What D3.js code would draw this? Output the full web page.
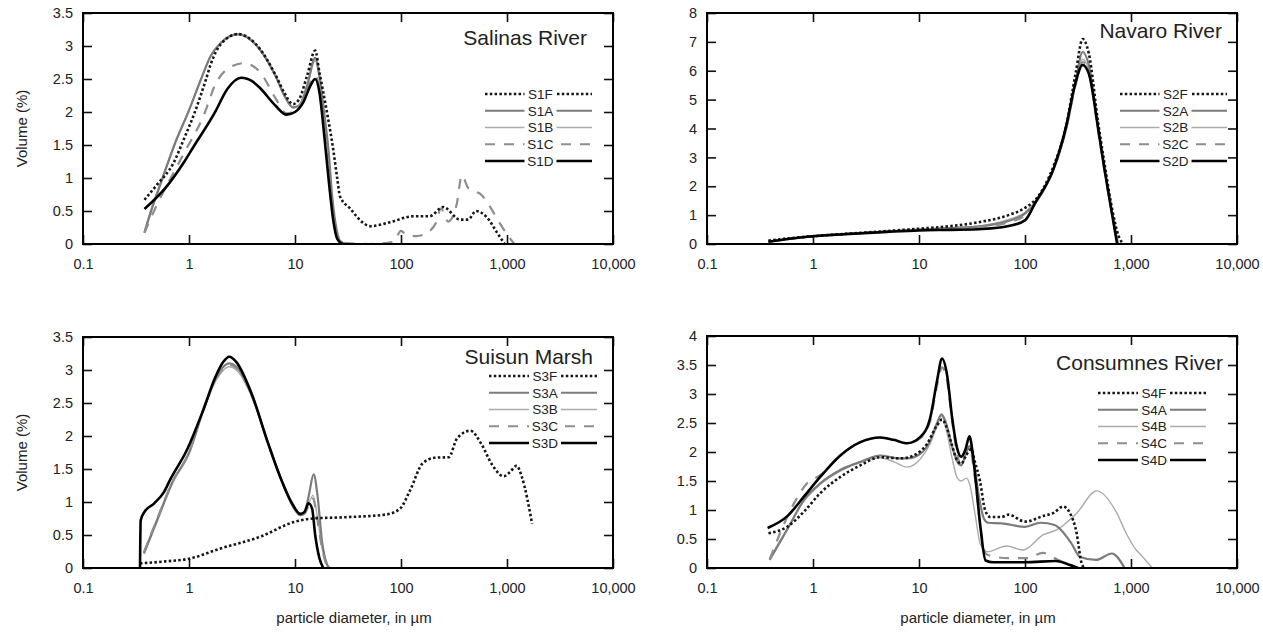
<!DOCTYPE html>
<html>
<head>
<meta charset="utf-8">
<script src="https://cdn.jsdelivr.net/npm/d3@7"></script>
<style>
  body { margin: 0; background: #fff; }
  text { font-family: "Liberation Sans", Arial, sans-serif; fill: #222; }
</style>
</head>
<body>
<svg id="chart" width="1263" height="635"></svg>
<script>
// x axis ticks (particle diameter, µm)
const xTicks = [0.1, 1, 10, 100, 1000, 10000];
const xTickLabels = ["0.1", "1", "10", "100", "1,000", "10,000"];

// ── Salinas River ─────────────────────────────
const s1F = [[0.38,0.67],[0.5,0.9],[0.71,1.22],[0.9,1.6],[1.13,1.99],[1.45,2.5],[1.6,2.72],[2.0,3.03],[2.9,3.18],[4.7,2.95],[6.6,2.55],[8,2.28],[9.6,2.12],[11,2.2],[13,2.55],[15.5,2.93],[17,2.6],[20,2.0],[23,1.42],[25,1.0],[26.6,0.72],[33,0.54],[44,0.32],[51,0.27],[79,0.33],[130,0.42],[186,0.42],[250,0.56],[360,0.37],[430,0.37],[510,0.5],[650,0.4],[800,0.18],[950,0]];
const s1A = [[0.38,0.17],[0.45,0.55],[0.55,0.95],[0.63,1.22],[0.75,1.55],[0.98,1.99],[1.3,2.5],[1.6,2.85],[2.0,3.05],[2.9,3.18],[4.7,2.94],[6.6,2.54],[8,2.24],[9.6,2.07],[11,2.1],[13,2.4],[15.5,2.82],[17,2.55],[18.8,2.0],[20.7,1.42],[22.5,0.7],[24.5,0.25],[26.5,0.05],[30,0]];
const s1B = [[0.38,0.2],[0.45,0.58],[0.55,0.97],[0.63,1.24],[0.75,1.57],[0.98,2.0],[1.3,2.5],[1.6,2.84],[2.0,3.04],[2.9,3.17],[4.7,2.93],[6.6,2.52],[8,2.22],[9.6,2.06],[11,2.1],[13,2.38],[15.5,2.78],[17,2.5],[18.8,1.95],[20.7,1.35],[22.5,0.65],[24.5,0.2],[27,0.04],[32,0]];
const s1C = [[0.38,0.17],[0.5,0.6],[0.7,1.05],[0.9,1.38],[1.41,1.99],[1.75,2.4],[2.3,2.65],[3.3,2.74],[4.7,2.6],[6.6,2.2],[8.3,1.98],[10,2.02],[12,2.2],[14,2.45],[15.5,2.55],[17,2.35],[19,1.7],[21,1.0],[23,0.4],[25,0.1],[28,0.02],[50,0],[85,0.03],[100,0.2],[112,0.14],[140,0.12],[180,0.18],[215,0.33],[238,0.54],[278,0.34],[335,0.6],[375,1.04],[430,0.85],[490,0.8],[560,0.76],[700,0.55],[850,0.32],[1170,0]];
const s1D = [[0.38,0.53],[0.6,0.85],[0.88,1.22],[1.1,1.47],[1.75,1.99],[2.3,2.35],[3.1,2.52],[4,2.46],[4.7,2.36],[6.6,2.09],[8.3,1.96],[10,2.0],[12,2.15],[14,2.4],[15.5,2.5],[17,2.3],[19,1.6],[21,0.9],[23,0.35],[25,0.08],[28,0]];

// ── Navaro River ──────────────────────────────
const s2F = [[0.38,0.12],[0.6,0.2],[1,0.27],[2,0.35],[5,0.45],[10,0.53],[20,0.62],[40,0.78],[70,1.0],[100,1.25],[130,1.6],[186,2.7],[245,4.1],[300,5.9],[350,7.1],[400,6.6],[490,4.2],[556,2.9],[665,1.2],[760,0.3],[850,0]];
const s2A = [[0.38,0.08],[0.6,0.18],[1,0.27],[2,0.35],[5,0.43],[10,0.5],[20,0.55],[40,0.62],[70,0.8],[100,1.05],[130,1.5],[186,2.6],[245,4.0],[300,5.6],[350,6.65],[400,6.2],[490,4.0],[556,2.7],[665,1.05],[753,0]];
const s2B = [[0.38,0.08],[0.6,0.18],[1,0.27],[2,0.35],[5,0.43],[10,0.5],[20,0.56],[40,0.64],[70,0.85],[100,1.1],[130,1.55],[186,2.6],[245,4.0],[300,5.5],[350,6.4],[400,6.0],[490,3.9],[556,2.65],[665,1.0],[750,0]];
const s2C = [[0.38,0.08],[0.6,0.18],[1,0.27],[2,0.35],[5,0.43],[10,0.5],[20,0.55],[40,0.6],[70,0.75],[100,1.0],[130,1.5],[186,2.6],[245,4.0],[300,5.5],[350,6.3],[400,5.95],[490,3.9],[556,2.65],[665,1.0],[748,0]];
const s2D = [[0.38,0.08],[0.6,0.18],[1,0.27],[2,0.34],[5,0.42],[10,0.47],[20,0.49],[40,0.52],[70,0.62],[100,0.82],[126,1.45],[186,2.6],[245,4.1],[300,5.6],[350,6.2],[400,5.9],[490,4.0],[556,2.7],[665,1.0],[740,0]];

// ── Suisun Marsh ──────────────────────────────
const s3F = [[0.345,0.07],[0.6,0.1],[1,0.14],[1.93,0.29],[4.8,0.48],[9.9,0.7],[14.7,0.75],[30,0.77],[72,0.81],[98,0.9],[122,1.18],[159,1.58],[207,1.67],[283,1.68],[337,1.96],[451,2.08],[573,1.88],[714,1.58],[933,1.39],[1062,1.45],[1232,1.55],[1380,1.38],[1725,0.67]];
const s3A = [[0.376,0.22],[0.5,0.72],[0.7,1.3],[1.0,1.74],[1.36,2.38],[1.77,2.86],[2.4,3.1],[2.8,3.05],[3.9,2.62],[5.6,1.88],[7.25,1.38],[9.45,0.95],[11.2,0.8],[12.3,0.83],[13.5,1.1],[15,1.42],[16.3,1.1],[18,0.4],[20,0.06],[21,0]];
const s3B = [[0.376,0.25],[0.5,0.75],[0.7,1.32],[1.0,1.76],[1.36,2.38],[1.77,2.82],[2.4,3.05],[2.8,3.0],[3.9,2.6],[5.6,1.88],[7.25,1.38],[9.45,0.95],[11.2,0.8],[12.3,0.82],[13.5,0.98],[14.8,1.1],[16,0.85],[18,0.3],[20,0.04],[21.5,0]];
const s3C = [[0.376,0.24],[0.5,0.74],[0.7,1.31],[1.0,1.75],[1.36,2.4],[1.77,2.85],[2.4,3.08],[2.8,3.03],[3.9,2.61],[5.6,1.88],[7.25,1.38],[9.45,0.95],[11.2,0.8],[12.3,0.82],[13.5,0.95],[14.8,1.05],[16,0.8],[18,0.3],[20,0.04],[21.5,0]];
const s3D = [[0.345,0],[0.35,0.72],[0.38,0.85],[0.47,0.98],[0.58,1.15],[0.67,1.35],[0.95,1.78],[1.36,2.39],[1.77,2.89],[2.1,3.12],[2.4,3.2],[2.8,3.12],[3.9,2.64],[5.6,1.88],[7.25,1.38],[9.45,0.97],[11.2,0.82],[12.3,0.85],[13.4,0.98],[14.5,0.9],[15.5,0.5],[17,0.15],[18.5,0]];

// ── Consumnes River ───────────────────────────
const s4F = [[0.38,0.6],[0.57,0.71],[0.82,0.97],[1.17,1.29],[1.81,1.57],[2.8,1.77],[4.3,1.91],[6.7,1.89],[8.9,1.94],[11.9,2.14],[14.8,2.46],[16.5,2.56],[18,2.45],[20.2,2.15],[23,1.85],[25,1.8],[28,1.95],[31,2.05],[34,1.8],[37.6,1.5],[42,1.0],[47,0.88],[60,0.88],[70,0.92],[100,0.8],[150,0.9],[186,0.95],[229,1.06],[265,0.95],[307,0.6],[340,0.1],[360,0]];
const s4A = [[0.39,0.14],[0.57,0.66],[0.82,1.17],[1.17,1.46],[1.81,1.69],[2.8,1.83],[4.3,1.94],[5.8,1.9],[7.7,1.89],[10.3,1.97],[12.8,2.2],[14.8,2.5],[16.3,2.65],[18,2.5],[20.5,2.1],[23.5,1.8],[25,1.77],[28,2.0],[30,2.1],[33,1.8],[37,1.2],[41,0.85],[45,0.78],[60,0.77],[100,0.71],[140,0.78],[190,0.74],[275,0.42],[330,0.19],[468,0.14],[660,0.25],[870,0]];
const s4B = [[0.39,0.16],[0.57,0.68],[0.82,1.15],[1.17,1.44],[1.81,1.67],[2.8,1.82],[4.3,1.9],[5.8,1.83],[7.7,1.74],[10.3,1.88],[12.8,2.15],[14.8,2.45],[16.3,2.62],[18,2.4],[20.5,1.9],[23,1.55],[25,1.5],[28,1.55],[30,1.45],[34,0.9],[38,0.4],[44,0.28],[67,0.38],[96,0.31],[148,0.57],[200,0.66],[309,0.95],[474,1.33],[733,0.95],[900,0.6],[1100,0.33],[1250,0.22],[1585,0]];
const s4C = [[0.39,0.15],[0.66,1.11],[0.88,1.46],[1.17,1.6],[1.81,1.94],[2.8,2.17],[4.3,2.25],[5.76,2.21],[7.7,2.15],[10.3,2.24],[12.8,2.55],[14.8,3.15],[16.5,3.46],[18.5,3.2],[20.5,2.55],[23,1.95],[25,1.77],[28,2.05],[30,2.05],[34,1.5],[38,0.7],[42.5,0.25],[50,0.2],[70,0.17],[104,0.17],[148,0.26],[200,0.15],[260,0.06],[320,0]];
const s4D = [[0.373,0.69],[0.57,0.89],[0.82,1.23],[1.17,1.57],[1.81,1.94],[2.8,2.17],[4.3,2.25],[5.76,2.21],[7.7,2.15],[10.3,2.26],[12.8,2.6],[14.8,3.23],[16.5,3.61],[18.5,3.3],[20.5,2.6],[23,2.05],[25,1.92],[27.5,2.05],[29.9,2.27],[32,2.0],[34,1.57],[38,0.7],[42.5,0.13],[50,0.1],[100,0.1],[195,0.12],[250,0.07],[316,0]];

const titles = ["Salinas River", "Navaro River", "Suisun Marsh", "Consumnes River"];
const yMaxes = [3.5, 8, 3.5, 4];
const ySteps = [0.5, 1, 0.5, 0.5];
const seriesNames = [
  ["S1F","S1A","S1B","S1C","S1D"],
  ["S2F","S2A","S2B","S2C","S2D"],
  ["S3F","S3A","S3B","S3C","S3D"],
  ["S4F","S4A","S4B","S4C","S4D"]
];
const seriesData = [
  [s1F, s1A, s1B, s1C, s1D],
  [s2F, s2A, s2B, s2C, s2D],
  [s3F, s3A, s3B, s3C, s3D],
  [s4F, s4A, s4B, s4C, s4D]
];

// layout per panel
const layout = [
  { left: 83,  right: 613,  top: 13,  bottom: 244, tDx: -26, tDy: 32, legL: -128, legR: -21, legY: 94,  yTitle: true,  xTitle: false },
  { left: 707, right: 1237, top: 13,  bottom: 244, tDx: -15, tDy: 25, legL: -117, legR: -10, legY: 94,  yTitle: false, xTitle: false },
  { left: 83,  right: 613,  top: 337, bottom: 568, tDx: -20, tDy: 27, legL: -124, legR: -16, legY: 376, yTitle: true,  xTitle: true },
  { left: 707, right: 1237, top: 336, bottom: 568, tDx: -14, tDy: 34, legL: -139, legR: -31, legY: 393, yTitle: false, xTitle: true }
];
const legStep = 16.75;

// line style by series letter
const styles = {
  F: { stroke: "#151515", width: 2.6, dash: "2.5,2.3" },
  A: { stroke: "#7b7b7b", width: 2.2, dash: null },
  B: { stroke: "#ababab", width: 1.4, dash: null },
  C: { stroke: "#8e8e8e", width: 2.2, dash: "10,9" },
  D: { stroke: "#000",    width: 2.6, dash: null }
};
const drawOrder = [2, 1, 3, 0, 4]; // B, A, C, F, D

const svg = d3.select("#chart");

layout.forEach((L, p) => {
  const x = d3.scaleLog().domain([0.1, 10000]).range([L.left, L.right]);
  const y = d3.scaleLinear().domain([0, yMaxes[p]]).range([L.bottom, L.top]);
  const yTicks = d3.range(0, yMaxes[p] + 1e-9, ySteps[p]);
  const g = svg.append("g");

  const clipId = `clip${p}`;
  g.append("clipPath").attr("id", clipId).append("rect")
    .attr("x", L.left).attr("y", L.top - 5)
    .attr("width", L.right - L.left).attr("height", L.bottom - L.top + 5);

  // axes with inward ticks
  const styleAxis = sel => {
    sel.select(".domain").remove();
    sel.selectAll(".tick line").attr("stroke", "#111").attr("stroke-width", 1.6);
    sel.selectAll("text").attr("font-size", 14.5).attr("fill", "#222")
      .attr("font-family", '"Liberation Sans", Arial, sans-serif');
  };
  g.append("g").attr("transform", `translate(0,${L.bottom})`)
    .call(d3.axisBottom(x).tickValues(xTicks).tickFormat((d, i) => xTickLabels[i])
      .tickSize(-9).tickPadding(15)).call(styleAxis);
  g.append("g").attr("transform", `translate(0,${L.top})`)
    .call(d3.axisTop(x).tickValues(xTicks).tickFormat("").tickSize(-9)).call(styleAxis);
  g.append("g").attr("transform", `translate(${L.left},0)`)
    .call(d3.axisLeft(y).tickValues(yTicks).tickFormat(d3.format("~g"))
      .tickSize(-9).tickPadding(10)).call(styleAxis);
  g.append("g").attr("transform", `translate(${L.right},0)`)
    .call(d3.axisRight(y).tickValues(yTicks).tickFormat("").tickSize(-9)).call(styleAxis);

  // series
  const line = d3.line().x(d => x(d[0])).y(d => y(d[1])).curve(d3.curveMonotoneX);
  const plot = g.append("g").attr("clip-path", `url(#${clipId})`);
  drawOrder.forEach(i => {
    const st = styles[seriesNames[p][i].slice(-1)];
    plot.append("path").datum(seriesData[p][i])
      .attr("d", line)
      .attr("fill", "none")
      .attr("stroke", st.stroke)
      .attr("stroke-width", st.width)
      .attr("stroke-dasharray", st.dash)
      .attr("stroke-linejoin", "round");
  });

  // frame
  g.append("rect")
    .attr("x", L.left).attr("y", L.top)
    .attr("width", L.right - L.left).attr("height", L.bottom - L.top)
    .attr("fill", "none").attr("stroke", "#000").attr("stroke-width", 2);

  // title
  g.append("text")
    .attr("x", L.right + L.tDx).attr("y", L.top + L.tDy)
    .attr("text-anchor", "end").attr("font-size", 21).attr("fill", "#111")
    .text(titles[p]);

  // legend
  const lx0 = L.right + L.legL, lx1 = L.right + L.legR, lc = (lx0 + lx1) / 2 + 2;
  seriesNames[p].forEach((name, i) => {
    const st = styles[name.slice(-1)];
    const ly = L.legY + i * legStep;
    g.append("line").attr("x1", lx0).attr("x2", lx1).attr("y1", ly).attr("y2", ly)
      .attr("stroke", st.stroke).attr("stroke-width", st.width)
      .attr("stroke-dasharray", st.dash);
    g.append("rect").attr("x", lc - 16).attr("y", ly - 7)
      .attr("width", 32).attr("height", 14).attr("fill", "#fff");
    g.append("text").attr("x", lc).attr("y", ly).attr("dy", "0.36em")
      .attr("text-anchor", "middle").attr("font-size", 13.5).attr("fill", "#222")
      .text(name);
  });

  if (L.yTitle) {
    g.append("text")
      .attr("transform", `translate(22,${(L.top + L.bottom) / 2}) rotate(-90)`)
      .attr("text-anchor", "middle").attr("dy", "0.36em").attr("font-size", 15)
      .text("Volume (%)");
  }
  if (L.xTitle) {
    g.append("text")
      .attr("x", (L.left + L.right) / 2 + 6).attr("y", 618).attr("dy", "0.36em")
      .attr("text-anchor", "middle").attr("font-size", 15)
      .text("particle diameter, in µm");
  }
});
</script>
</body>
</html>
